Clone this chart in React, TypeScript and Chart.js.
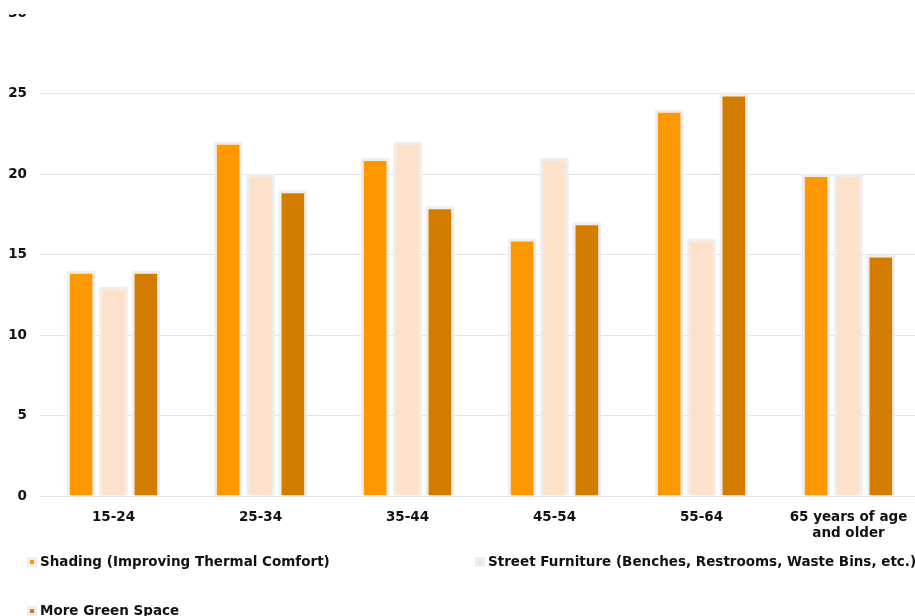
import React, { useEffect, useRef } from "react";
import { Chart, registerables } from "chart.js";

Chart.register(...registerables);

const categories: (string | string[])[] = [
  "15-24",
  "25-34",
  "35-44",
  "45-54",
  "55-64",
  ["65 years of age", "and older"],
];
const seriesNames = [
  "Shading (Improving Thermal Comfort)",
  "Street Furniture (Benches, Restrooms, Waste Bins, etc.)",
  "More Green Space",
];
const shading = [14, 22, 21, 16, 24, 20];
const streetFurniture = [13, 20, 22, 21, 16, 20];
const greenSpace = [14, 19, 18, 17, 25, 15];
const seriesColors = ["#FF9800", "#FDE1CA", "#D37D00"];
const borderGray = "#EEEEEE";
const yMin = 0;
const yMax = 30;
const yStep = 5;

const FONT_FAMILY = "'DejaVu Sans', sans-serif";
const FONT_SIZE = 13.5;

const gridLegend = {
  id: "gridLegend",
  afterDraw(chart: any) {
    const ctx = chart.ctx;
    const ca = chart.chartArea;
    ctx.save();
    ctx.font = `bold ${FONT_SIZE}px ${FONT_FAMILY}`;
    ctx.textBaseline = "middle";
    ctx.textAlign = "left";
    chart.data.datasets.forEach((ds: any, i: number) => {
      const col = i % 2;
      const row = Math.floor(i / 2);
      const x = ca.left - 13 + col * 448;
      const y = ca.bottom + 66 + row * 49;
      ctx.fillStyle = borderGray;
      ctx.fillRect(x, y - 5, 10, 10);
      ctx.fillStyle = ds.backgroundColor;
      ctx.fillRect(x + 3, y - 2, 4, 4);
      ctx.fillStyle = "#111";
      ctx.fillText(ds.label, x + 13, y);
    });
    ctx.restore();
  },
};

export default function App() {
  const ref = useRef<HTMLCanvasElement | null>(null);

  useEffect(() => {
    if (!ref.current) return;
    const values = [shading, streetFurniture, greenSpace];
    const chart = new Chart(ref.current, {
      type: "bar",
      data: {
        labels: categories as any,
        datasets: seriesNames.map((name, i) => ({
          label: name,
          data: values[i],
          backgroundColor: seriesColors[i],
          borderColor: borderGray,
          borderWidth: 3,
          categoryPercentage: 0.66,
          barPercentage: 0.887,
        })),
      },
      options: {
        animation: false,
        responsive: false,
        devicePixelRatio: 1,
        layout: { padding: { top: 20, left: 0, right: 0, bottom: 86 } },
        plugins: {
          legend: { display: false },
          tooltip: { enabled: false },
        },
        scales: {
          x: {
            grid: { display: false, drawTicks: false },
            border: { display: false },
            ticks: {
              color: "#111",
              padding: 13,
              font: { family: FONT_FAMILY, size: FONT_SIZE, weight: "bold" },
            },
            afterFit(scale: any) {
              scale.height = 50;
            },
          },
          y: {
            min: yMin,
            max: yMax,
            grid: { color: "#E2E2E2", drawTicks: false },
            border: { display: false },
            ticks: {
              stepSize: yStep,
              color: "#111",
              padding: 13,
              font: { family: FONT_FAMILY, size: FONT_SIZE, weight: "bold" },
            },
            afterFit(scale: any) {
              scale.width = 40;
            },
          },
        },
      },
      plugins: [gridLegend],
    });
    return () => chart.destroy();
  }, []);

  return (
    <div
      style={{
        position: "absolute",
        left: 0,
        top: 0,
        width: 915,
        height: 616,
        overflow: "hidden",
        background: "#fff",
      }}
    >
      <div
        style={{
          position: "absolute",
          left: 0,
          top: 14,
          width: 915,
          height: 602,
          overflow: "hidden",
        }}
      >
        <canvas
          ref={ref}
          width={922}
          height={640}
          style={{ position: "absolute", left: 0, top: -22, width: 922, height: 640 }}
        />
      </div>
    </div>
  );
}
